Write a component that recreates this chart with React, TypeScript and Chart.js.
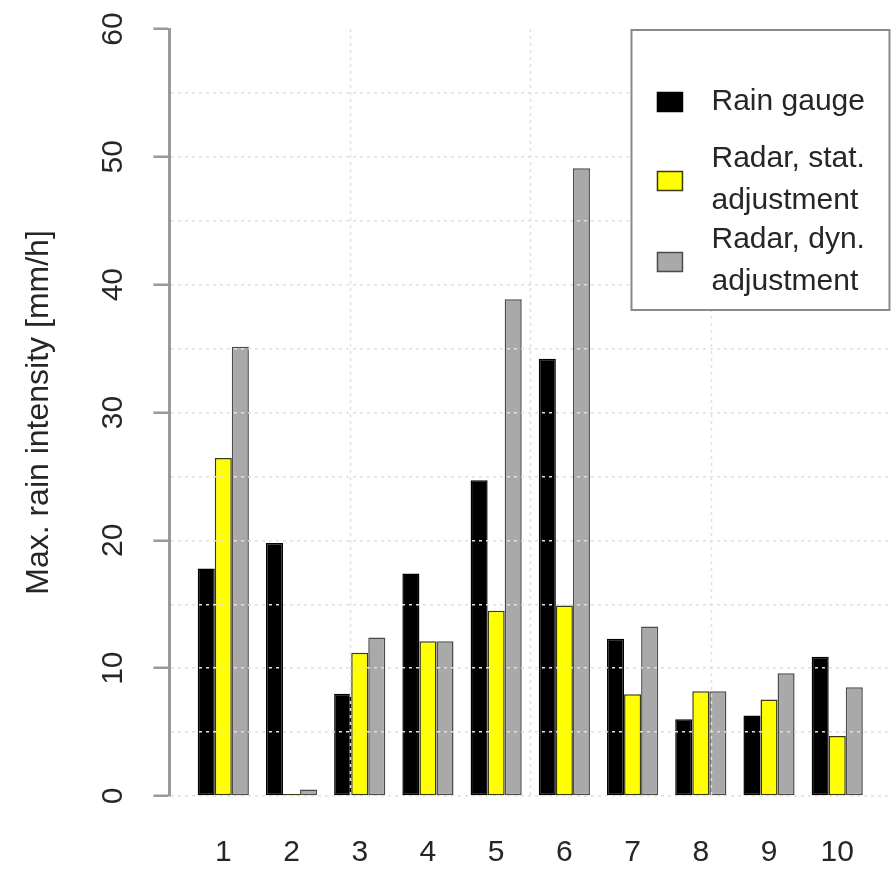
import React, { useEffect, useRef } from 'react';
import { Chart, registerables } from 'chart.js';

Chart.register(...registerables);

// ---- data ----
const CATEGORIES = [1, 2, 3, 4, 5, 6, 7, 8, 9, 10];
const RAIN_GAUGE = [17.8, 19.8, 8.0, 17.4, 24.7, 34.2, 12.3, 6.0, 6.3, 10.9];
const RADAR_STAT = [26.45, 0, 11.2, 12.1, 14.5, 14.9, 7.95, 8.2, 7.55, 4.7];
const RADAR_DYN = [35.15, 0.5, 12.4, 12.1, 38.85, 49.1, 13.25, 8.2, 9.6, 8.5];
const SERIES_NAMES = ['Rain gauge', 'Radar, stat. adjustment', 'Radar, dyn. adjustment'];
const LEGEND_LINES = [['Rain gauge'], ['Radar, stat.', 'adjustment'], ['Radar, dyn.', 'adjustment']];
const Y_GRID_VALUES = [0, 5, 10, 15, 20, 25, 30, 35, 40, 45, 50, 55, 60];
const Y_LABELED = [0, 10, 20, 30, 40, 50, 60];
const Y_TITLE = 'Max. rain intensity [mm/h]';

const X_MIN = 0.21;
const X_MAX = 10.795;
const X_GRID_VALUES = [1, 2, 3].map((k) => X_MIN + (k * (X_MAX - X_MIN)) / 4);

const FONT = '"Liberation Sans", Arial, Helvetica, sans-serif';
const TEXT = '#262626';
const GRID = '#e0e0e0';
const NONE = 'rgba(0,0,0,0)';

const COLORS = ['#000000', '#ffff00', '#a9a9a9'];
const BORDERS = ['#000000', '#3a3a10', '#4a4a4a'];

// vertical grid lines (R grid(nx = 4)), drawn over the bars like in the original
const verticalGrid = {
  id: 'verticalGrid',
  afterDatasetsDraw(chart: any) {
    const { ctx, chartArea, scales } = chart;
    ctx.save();
    ctx.strokeStyle = GRID;
    ctx.lineWidth = 1.5;
    ctx.setLineDash([3, 4]);
    X_GRID_VALUES.forEach((v) => {
      const px = Math.round(scales.x.getPixelForValue(v)) + 0.5;
      ctx.beginPath();
      ctx.moveTo(px, chartArea.top);
      ctx.lineTo(px, chartArea.bottom);
      ctx.stroke();
    });
    ctx.restore();
  },
};

const boxLegend = {
  id: 'boxLegend',
  afterDraw(chart: any) {
    const { ctx, chartArea } = chart;
    const x0 = chartArea.right - 260;
    const y0 = chartArea.top + 1;
    const w = 258;
    const h = 280;
    ctx.save();
    ctx.fillStyle = '#ffffff';
    ctx.fillRect(x0, y0, w, h);
    ctx.strokeStyle = '#8a8a8a';
    ctx.lineWidth = 2;
    ctx.strokeRect(x0, y0, w, h);
    const rows = [72, 151, 232];
    ctx.font = `30px ${FONT}`;
    ctx.textBaseline = 'middle';
    ctx.textAlign = 'left';
    LEGEND_LINES.forEach((lines, i) => {
      const cy = y0 + rows[i];
      ctx.fillStyle = COLORS[i];
      ctx.fillRect(x0 + 26, cy - 9.5, 25, 19);
      ctx.strokeStyle = BORDERS[i];
      ctx.lineWidth = 1.5;
      ctx.strokeRect(x0 + 26, cy - 9.5, 25, 19);
      ctx.fillStyle = TEXT;
      if (lines.length === 1) {
        ctx.fillText(lines[0], x0 + 80, cy);
      } else {
        ctx.fillText(lines[0], x0 + 80, cy - 22);
        ctx.fillText(lines[1], x0 + 80, cy + 20);
      }
    });
    ctx.restore();
  },
};

export default function App() {
  const ref = useRef<HTMLCanvasElement>(null);

  useEffect(() => {
    if (!ref.current) return;
    Chart.defaults.font.family = FONT;
    const series = [RAIN_GAUGE, RADAR_STAT, RADAR_DYN];
    const chart = new Chart(ref.current, {
      type: 'bar',
      data: {
        datasets: series.map((vals, si) => ({
          label: SERIES_NAMES[si],
          data: vals.map((v, i) => ({ x: CATEGORIES[i], y: v })),
          backgroundColor: COLORS[si],
          borderColor: BORDERS[si],
          borderWidth: 1.5,
          borderSkipped: false,
          minBarLength: si === 1 ? 2 : 0,
          categoryPercentage: 0.75,
          barPercentage: 1,
        })),
      },
      options: {
        responsive: false,
        animation: false,
        devicePixelRatio: 1,
        layout: { padding: { left: 0, top: 29, right: 1, bottom: -35 } },
        plugins: {
          legend: { display: false },
          tooltip: { enabled: false },
        },
        scales: {
          x: {
            type: 'linear',
            min: X_MIN,
            max: X_MAX,
            offset: false,
            afterBuildTicks: (s: any) => {
              s.ticks = CATEGORIES.map((v) => ({ value: v }));
            },
            ticks: {
              autoSkip: false,
              minRotation: 0,
              maxRotation: 0,
              padding: 39,
              color: TEXT,
              font: { size: 30 },
              callback: (v: any) => String(v),
            },
            grid: { display: false, drawTicks: false },
            border: { display: false },
          },
          y: {
            type: 'linear',
            min: 0,
            max: 60,
            afterBuildTicks: (s: any) => {
              s.ticks = Y_GRID_VALUES.map((v) => ({ value: v }));
            },
            ticks: {
              autoSkip: false,
              minRotation: 90,
              maxRotation: 90,
              crossAlign: 'center',
              padding: 23,
              color: TEXT,
              font: { size: 30, lineHeight: 0.4 },
              callback: (v: any) => (Y_LABELED.includes(v) ? String(v) : ''),
            },
            grid: {
              z: 1,
              lineWidth: 1.5,
              tickLength: 16,
              tickWidth: 2.5,
              tickBorderDash: [],
              tickColor: (c: any) => (c.tick && Y_LABELED.includes(c.tick.value) ? '#999999' : NONE),
              color: (c: any) => (c.tick && c.tick.value === 60 ? NONE : GRID),
            },
            border: { display: true, z: 1, color: '#999999', width: 3, dash: [3, 4] },
            title: {
              display: true,
              text: Y_TITLE,
              color: TEXT,
              font: { size: 32 },
              padding: { top: 20, bottom: 37 },
            },
          },
        },
      },
      plugins: [verticalGrid, boxLegend],
    } as any);
    return () => chart.destroy();
  }, []);

  return (
    <div style={{ position: 'absolute', left: 0, top: 0, width: 893, height: 875, background: '#fff' }}>
      <canvas ref={ref} width={893} height={875} style={{ display: 'block' }} />
    </div>
  );
}
